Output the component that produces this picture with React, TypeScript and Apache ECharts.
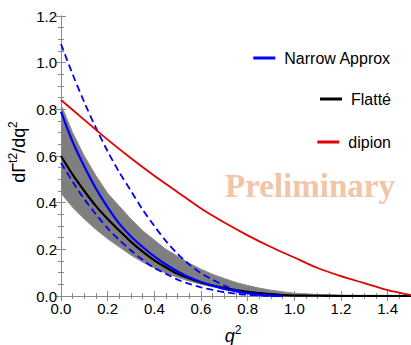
import React, { useEffect, useRef } from "react";
import * as echarts from "echarts";

// Narrow approximation (central and dashed upper / lower curves)
const narrowQ = [0, 0.05, 0.1, 0.15, 0.2, 0.25, 0.3, 0.35, 0.4, 0.45, 0.5, 0.55, 0.6, 0.65, 0.7, 0.75, 0.8, 0.85, 0.9, 0.95];
const narrowCentral = [0.79, 0.66, 0.555, 0.46, 0.38, 0.31, 0.255, 0.21, 0.17, 0.135, 0.105, 0.08, 0.06, 0.045, 0.03, 0.02, 0.012, 0.006, 0.003, 0.0];
const narrowUpper = [1.08, 0.95, 0.83, 0.72, 0.62, 0.53, 0.45, 0.37, 0.3, 0.235, 0.18, 0.135, 0.098, 0.07, 0.045, 0.025, 0.012, 0.005, 0.002, 0.0];
const narrowLower = [0.57, 0.49, 0.415, 0.35, 0.29, 0.24, 0.195, 0.155, 0.12, 0.095, 0.07, 0.052, 0.037, 0.026, 0.017, 0.01, 0.005, 0.002, 0.0, 0.0];

// Flatté curve
const flatteQ = [0, 0.05, 0.1, 0.15, 0.2, 0.25, 0.3, 0.35, 0.4, 0.45, 0.5, 0.55, 0.6, 0.65, 0.7, 0.75, 0.8, 0.85, 0.9, 0.95, 1.0, 1.1, 1.2, 1.3, 1.4, 1.5];
const flatte = [0.6, 0.52, 0.45, 0.385, 0.33, 0.28, 0.232, 0.19, 0.153, 0.122, 0.095, 0.075, 0.058, 0.045, 0.034, 0.025, 0.018, 0.012, 0.008, 0.004, 0.002, 0.001, 0.0, 0.0, 0.0, 0.0];

// Flatté uncertainty band
const bandQ = [0, 0.05, 0.1, 0.15, 0.2, 0.25, 0.3, 0.35, 0.4, 0.45, 0.5, 0.55, 0.6, 0.65, 0.7, 0.75, 0.8, 0.85, 0.9, 0.95, 1.0, 1.1, 1.2, 1.3, 1.4, 1.5];
const bandUpper = [0.82, 0.7, 0.6, 0.515, 0.44, 0.385, 0.33, 0.28, 0.24, 0.2, 0.17, 0.14, 0.115, 0.093, 0.075, 0.058, 0.045, 0.034, 0.025, 0.018, 0.012, 0.006, 0.004, 0.003, 0.003, 0.003];
const bandLower = [0.44, 0.38, 0.33, 0.285, 0.245, 0.21, 0.175, 0.145, 0.12, 0.098, 0.08, 0.064, 0.05, 0.039, 0.03, 0.022, 0.015, 0.01, 0.006, 0.003, 0.0, 0.0, 0.0, 0.0, 0.0, 0.0];

// dipion curve
const dipionQ = [0, 0.1, 0.2, 0.3, 0.4, 0.5, 0.6, 0.7, 0.8, 0.9, 1.0, 1.1, 1.2, 1.3, 1.4, 1.5];
const dipion = [0.84, 0.755, 0.67, 0.59, 0.515, 0.445, 0.375, 0.315, 0.26, 0.21, 0.165, 0.12, 0.085, 0.055, 0.025, 0.004];

const legendNames = ["Narrow Approx", "Flatté", "dipion"];

const zip = (xs: number[], ys: number[]) => xs.map((x, i) => [x, ys[i]]);

const FONT = "'Liberation Sans', Arial, Helvetica, sans-serif";
const FRAME = "#8a8a8a";

export default function App() {
  const ref = useRef<HTMLDivElement>(null);
  useEffect(() => {
    if (!ref.current) return;
    const chart = echarts.init(ref.current, undefined, { renderer: "svg" });

    const axisCommon = {
      type: "value" as const,
      splitLine: { show: false },
      axisLine: { show: true, lineStyle: { color: FRAME, width: 1 } },
      axisTick: { show: true, inside: true, length: 5, lineStyle: { color: FRAME } },
      minorTick: { show: true, splitNumber: 4, length: 3, lineStyle: { color: FRAME } },
    };

    const legendCommon = {
      orient: "horizontal" as const,
      icon: "rect",
      itemWidth: 22,
      itemHeight: 3,
      selectedMode: false,
      padding: 0,
      textStyle: { fontSize: 16, fontFamily: FONT, color: "#000", lineHeight: 18, padding: [0, 0, 0, 4] },
    };

    chart.setOption({
      animation: false,
      grid: { left: 61, top: 16, right: -3, bottom: 49, containLabel: false },
      xAxis: [
        {
          ...axisCommon,
          min: 0,
          max: 1.5,
          interval: 0.2,
          position: "bottom",
          axisLabel: {
            show: true,
            fontSize: 15,
            fontFamily: FONT,
            color: "#000",
            margin: 5,
            showMaxLabel: false,
            formatter: (v: number) => v.toFixed(1),
          },
        },
        {
          ...axisCommon,
          min: 0,
          max: 1.5,
          interval: 0.2,
          position: "top",
          axisLabel: { show: false },
        },
      ],
      yAxis: [
        {
          ...axisCommon,
          min: 0,
          max: 1.2,
          interval: 0.2,
          position: "left",
          axisLabel: {
            show: true,
            fontSize: 15,
            fontFamily: FONT,
            color: "#000",
            margin: 4,
            formatter: (v: number) => v.toFixed(1),
          },
        },
        {
          ...axisCommon,
          min: 0,
          max: 1.2,
          interval: 0.2,
          position: "right",
          axisLabel: { show: false },
        },
      ],
      legend: [
        { ...legendCommon, data: [legendNames[0]], right: 20, top: 49 },
        { ...legendCommon, data: [legendNames[1]], right: 20, top: 90 },
        { ...legendCommon, data: [legendNames[2]], right: 20, top: 133 },
      ],
      series: [
        {
          name: "band",
          type: "custom",
          data: bandQ.map((q, i) => [q, bandLower[i], bandUpper[i]]),
          encode: { x: 0, y: [1, 2] },
          silent: true,
          clip: true,
          renderItem: (params: any, api: any) => {
            if (params.dataIndex !== 0) return null;
            const up = bandQ.map((q, i) => api.coord([q, bandUpper[i]]));
            const lo = bandQ.map((q, i) => api.coord([q, bandLower[i]])).reverse();
            return {
              type: "polygon",
              shape: { points: up.concat(lo) },
              style: { fill: "#7f7f7f", stroke: "#8c8c8c", lineWidth: 1 },
            };
          },
        },
        {
          name: "Flatté",
          type: "line",
          color: "#000000",
          data: zip(flatteQ, flatte),
          symbol: "none",
          smooth: 0.3,
          lineStyle: { width: 2.2, color: "#000000" },
        },
        {
          name: "Narrow Approx",
          type: "line",
          color: "#0000ff",
          data: zip(narrowQ, narrowCentral),
          symbol: "none",
          smooth: 0.3,
          lineStyle: { width: 2.2, color: "#0000ff" },
        },
        {
          name: "Narrow upper",
          type: "line",
          color: "#0000ff",
          data: zip(narrowQ, narrowUpper),
          symbol: "none",
          smooth: 0.3,
          lineStyle: { width: 1.8, color: "#0000ff", type: [7, 4] },
        },
        {
          name: "Narrow lower",
          type: "line",
          color: "#0000ff",
          data: zip(narrowQ, narrowLower),
          symbol: "none",
          smooth: 0.3,
          lineStyle: { width: 1.8, color: "#0000ff", type: [7, 4] },
        },
        {
          name: "dipion",
          type: "line",
          color: "#e00000",
          data: zip(dipionQ, dipion),
          symbol: "none",
          smooth: 0.3,
          lineStyle: { width: 1.8, color: "#e00000" },
        },
      ],
      graphic: [
        {
          type: "text",
          x: 310,
          y: 186,
          z: 100,
          style: {
            text: "Preliminary",
            font: "bold 33px 'Liberation Serif', 'Times New Roman', serif",
            fill: "#f2c4a8",
            align: "center",
            verticalAlign: "middle",
          },
        },
        {
          type: "text",
          x: 17,
          y: 152,
          rotation: Math.PI / 2,
          style: {
            text: "{n|dΓ}{s|t2}{n|/dq}{s|2}",
            align: "center",
            verticalAlign: "middle",
            rich: {
              n: { fontSize: 18, fontFamily: FONT, fill: "#000", lineHeight: 21, verticalAlign: "bottom" },
              s: { fontSize: 12, fontFamily: FONT, fill: "#000", lineHeight: 21, verticalAlign: "top" },
            },
          },
        },
        {
          type: "text",
          x: 233,
          y: 334,
          style: {
            text: "{n|q}{s|2}",
            align: "center",
            verticalAlign: "middle",
            rich: {
              n: { fontSize: 18, fontStyle: "italic", fontFamily: FONT, fill: "#000", lineHeight: 21, verticalAlign: "bottom" },
              s: { fontSize: 12, fontFamily: FONT, fill: "#000", lineHeight: 21, verticalAlign: "top" },
            },
          },
        },
      ],
    });
    return () => chart.dispose();
  }, []);
  return (
    <div
      ref={ref}
      style={{ position: "fixed", left: 0, top: 0, width: 411, height: 345, background: "#fff" }}
    />
  );
}
